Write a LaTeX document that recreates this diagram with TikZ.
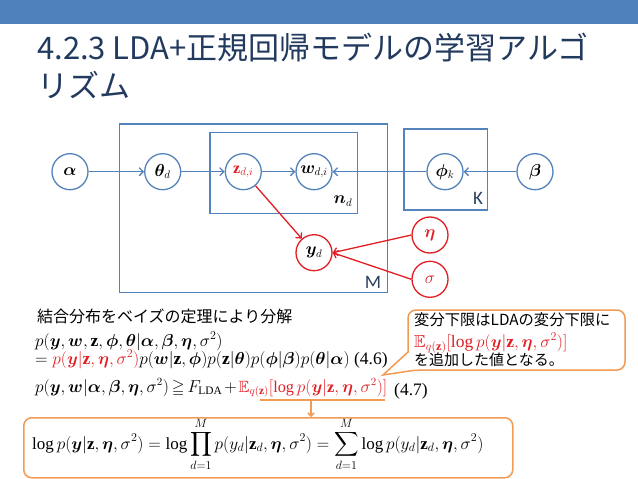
\documentclass[tikz,border=0pt]{standalone}
\usepackage{amsmath,amssymb,bm}
\usepackage{fontspec}
\setmainfont{Liberation Serif}
\newfontfamily\jp{Noto Sans CJK JP}
\newfontfamily\lat{Carlito}
\usetikzlibrary{arrows.meta}
\definecolor{barblue}{RGB}{79,129,189}
\definecolor{lineblue}{RGB}{84,130,186}
\definecolor{myred}{RGB}{226,30,36}
\definecolor{titlecol}{RGB}{34,58,94}
\definecolor{calor}{RGB}{242,155,85}
\tikzset{
  gnode/.style={circle, draw=lineblue, line width=1.3pt, minimum size=36pt, inner sep=0pt, fill=white, font=\fontsize{16}{18}\selectfont},
  rnode/.style={gnode, draw=myred, text=myred},
  plate/.style={draw=lineblue, line width=1.3pt},
  barrow/.style={draw=lineblue, line width=1.3pt, -{Straight Barb[length=4pt,width=8pt]}},
  rarrow/.style={barrow, draw=myred},
  eqn/.style={anchor=base west, inner sep=0pt, font=\fontsize{17.5}{18}\selectfont},
  jtext/.style={anchor=west, inner sep=0pt, font=\jp\fontsize{16}{18}\selectfont},
  orline/.style={draw=calor, line width=1.5pt}
}
\begin{document}
\begin{tikzpicture}[x=1pt,y=-1pt]
\useasboundingbox (0,0) rectangle (638,479);
\fill[barblue] (0,0) rectangle (638,24);
% title
\node[anchor=base west, inner sep=0pt, text=titlecol, font=\jp\fontsize{31}{34}\selectfont] (t1) at (37,59)
  {4.2.3 LDA+正規回帰モデルの学習アルゴ};
\node[anchor=base west, inner sep=0pt, text=titlecol, font=\jp\fontsize{31}{34}\selectfont] (t2) at (37,97)
  {リズム};
% plates
\draw[plate] (119.3,124) rectangle (387.3,292.3);
\draw[plate] (210,132.7) rectangle (357.3,213.3);
\draw[plate] (404,129) rectangle (487.3,210);
\node[inner sep=0pt, font=\fontsize{16}{18}\selectfont] (nd) at (343,201) {$\bm{n}_d$};
\node[inner sep=0pt, text=lineblue!50!black, font=\lat\fontsize{19}{20}\selectfont] (Klab) at (478,198) {K};
\node[inner sep=0pt, text=lineblue!50!black, font=\lat\fontsize{19}{20}\selectfont] (Mlab) at (373,282) {M};
% nodes
\node[gnode] (alpha) at (70,171.7) {$\bm{\alpha}$};
\node[gnode] (theta) at (162.7,171.7) {$\bm{\theta}_d$};
\node[gnode, text=myred] (z) at (243.3,171.7) {$\mathbf{z}_{d,i}$};
\node[gnode] (w) at (314,171.7) {$\bm{w}_{d,i}$};
\node[gnode] (phi) at (445,171.7) {$\bm{\phi}_k$};
\node[gnode] (beta) at (535,171.7) {$\bm{\beta}$};
\node[rnode, text=black] (y) at (314,252.7) {$\bm{y}_d$};
\node[rnode] (eta) at (430,235) {$\bm{\eta}$};
\node[rnode] (sigma) at (430,279.3) {$\sigma$};
% edges
\draw[barrow] (alpha) -- (theta);
\draw[barrow] (theta) -- (z);
\draw[barrow] (z) -- (w);
\draw[barrow] (phi) -- (w);
\draw[barrow] (beta) -- (phi);
\draw[rarrow] (z) -- (y);
\draw[rarrow] (eta.west) -- (y.east);
\draw[rarrow] (sigma.west) -- (y.east);
% equations
\node[jtext] (j1) at (37,316) {結合分布をベイズの定理により分解};
\node[eqn] (e1) at (35,346) {$p(\bm{y},\bm{w},\mathbf{z},\bm{\phi},\bm{\theta}|\bm{\alpha},\bm{\beta},\bm{\eta},\sigma^2)$};
\node[eqn] (e2) at (35,364) {$=\textcolor{myred}{p(\bm{y}|\mathbf{z},\bm{\eta},\sigma^2)}p(\bm{w}|\mathbf{z},\bm{\phi})p(\mathbf{z}|\bm{\theta})p(\bm{\phi}|\bm{\beta})p(\bm{\theta}|\bm{\alpha})$ (4.6)};
\node[eqn, font=\fontsize{16.3}{18}\selectfont] (e3) at (35,392) {\medmuskip=2mu\thickmuskip=3mu$p(\bm{y},\bm{w}|\bm{\alpha},\bm{\beta},\bm{\eta},\sigma^2)\geqq F_{\mathrm{LDA}}+\textcolor{myred}{\mathbb{E}_{q(\mathbf{z})}[\log p(\bm{y}|\mathbf{z},\bm{\eta},\sigma^2)]}$};
\node[eqn] (e47) at (394,395) {(4.7)};
% underline and arrow
\coordinate (ul1) at (260,400);
\coordinate (ua) at (311,400);
\coordinate (tip) at (383,375);
\node[draw=calor, line width=1.5pt, rounded corners=8pt, minimum width=489pt, minimum height=60pt, anchor=north west, inner sep=0pt] (box) at (23,417) {};
\draw[orline] (ul1) -- ([xshift=-2pt]e3.east |- ul1);
\draw[orline, -{Straight Barb[length=3pt,width=6pt]}] (ua) -- (ua |- box.north);
\node[eqn, font=\fontsize{17}{18}\selectfont] (e4) at (32,449) {$\displaystyle \log p(\bm{y}|\mathbf{z},\bm{\eta},\sigma^2)=\log\prod_{d=1}^{M}p(y_d|\mathbf{z}_d,\bm{\eta},\sigma^2)=\sum_{d=1}^{M}\log p(y_d|\mathbf{z}_d,\bm{\eta},\sigma^2)$};
% callout
\draw[orline, fill=white, rounded corners=8pt] (408,334) -- (408,310) -- (625,310) -- (625,370) -- (416,370) [sharp corners] -- (tip) -- (408,352) [rounded corners=8pt] -- cycle;
\node[jtext, font=\jp\fontsize{15.3}{18}\selectfont] (c1) at (414,320) {変分下限はLDAの変分下限に};
\node[eqn, text=myred] (c2) at (414,347) {$\mathbb{E}_{q(\mathbf{z})}[\log p(\bm{y}|\mathbf{z},\bm{\eta},\sigma^2)]$};
\node[jtext, font=\jp\fontsize{15}{18}\selectfont] (c3) at (414,360) {を追加した値となる。};
\end{tikzpicture}
\end{document}
